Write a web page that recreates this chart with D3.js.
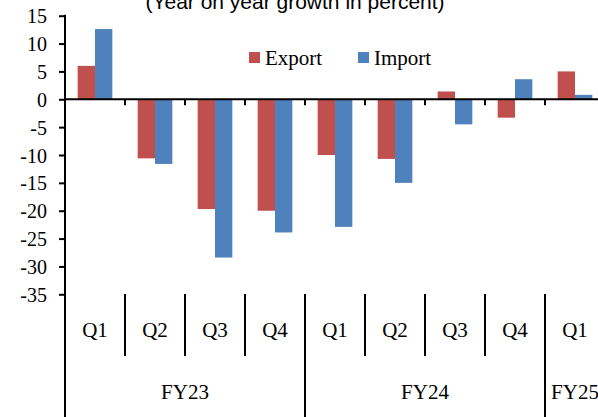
<!DOCTYPE html>
<html>
<head>
<meta charset="utf-8">
<script src="https://cdn.jsdelivr.net/npm/d3@7"></script>
<style>
  body { margin: 0; background: #fff; }
  .tick-text { font-family: "Liberation Serif", "Times New Roman", serif; font-size: 20px; fill: #000; }
  .cat-text { font-family: "Liberation Serif", "Times New Roman", serif; font-size: 21px; fill: #000; }
  .title-text { font-family: "Liberation Sans", Arial, sans-serif; font-size: 21px; fill: #000; }
</style>
</head>
<body>
<div id="chart"></div>
<script>
// data
const quarters = ["Q1", "Q2", "Q3", "Q4", "Q1", "Q2", "Q3", "Q4", "Q1"];
const years = ["FY23", "FY24", "FY25"];
const quartersPerYear = [4, 4, 1];
const exportGrowth = [6.0, -10.6, -19.7, -20.0, -10.0, -10.7, 1.4, -3.3, 5.0];
const importGrowth = [12.6, -11.6, -28.4, -23.9, -22.9, -15.0, -4.5, 3.6, 0.8];
const yTicks = [15, 10, 5, 0, -5, -10, -15, -20, -25, -30, -35];
const seriesNames = ["Export", "Import"];
const colors = { Export: "#C0504D", Import: "#4F81BD" };

// svg container size
const width = 598;
const height = 417;

// plot area
const plotLeft = 65;
const plotTop = 15.7;
const plotBottom = 294.3;
const step = 60;

// category keys, one per quarter
const yearOf = [];
years.forEach((y, i) => { for (let k = 0; k < quartersPerYear[i]; k++) yearOf.push(y); });
const keys = quarters.map((q, i) => `${yearOf[i]} ${q}`);

const data = keys.map((k, i) => ({ key: k, Export: exportGrowth[i], Import: importGrowth[i] }));

const svg = d3.select("#chart").append("svg")
    .attr("width", width)
    .attr("height", height);

// scales
const x0 = d3.scaleBand()
    .domain(keys)
    .range([plotLeft, plotLeft + step * keys.length]);

const x1 = d3.scaleBand()
    .domain(seriesNames)
    .range([0, x0.bandwidth()])
    .paddingOuter(0.73);

const y = d3.scaleLinear()
    .domain([-35, 15])
    .range([plotBottom, plotTop]);

// title (cut off at top like the original)
svg.append("text")
    .attr("class", "title-text")
    .attr("x", 295)
    .attr("y", 9)
    .attr("text-anchor", "middle")
    .text("(Year on year growth in percent)");

// bars
const groups = svg.selectAll("g.cat")
    .data(data)
    .enter()
    .append("g")
    .attr("class", "cat")
    .attr("transform", d => `translate(${x0(d.key)},0)`);

groups.selectAll("rect")
    .data(d => seriesNames.map(s => ({ s: s, v: d[s] })))
    .enter()
    .append("rect")
    .attr("x", d => x1(d.s))
    .attr("width", x1.bandwidth())
    .attr("y", d => y(Math.max(0, d.v)))
    .attr("height", d => Math.abs(y(d.v) - y(0)))
    .attr("fill", d => colors[d.s]);

// y axis (plain hyphen for negatives, as in the original)
const leftAxis = d3.axisLeft(y)
    .tickValues(yTicks)
    .tickSize(6)
    .tickFormat(d => String(d));

const yAxis = svg.append("g")
    .attr("transform", `translate(${plotLeft},0)`)
    .call(leftAxis);
yAxis.select(".domain").remove();
yAxis.selectAll("line").attr("stroke", "#000").attr("stroke-width", 2);
yAxis.selectAll("text")
    .attr("class", "tick-text")
    .attr("x", -18)
    .attr("dy", "0.35em");

// vertical axis line running down through the label area
svg.append("line")
    .attr("x1", plotLeft).attr("x2", plotLeft)
    .attr("y1", plotTop - 1).attr("y2", height)
    .attr("stroke", "#000").attr("stroke-width", 2);

// zero line with category ticks
const bottomAxis = d3.axisBottom(x0).tickSize(0).tickFormat("");
const xAxis = svg.append("g")
    .attr("transform", `translate(0,${y(0)})`)
    .call(bottomAxis);
xAxis.select(".domain")
    .attr("d", `M${plotLeft},0H${width + 10}`)
    .attr("stroke", "#000").attr("stroke-width", 2);

keys.slice(1).forEach(k => {
    svg.append("line")
        .attr("x1", x0(k)).attr("x2", x0(k))
        .attr("y1", y(0)).attr("y2", y(0) + 6)
        .attr("stroke", "#000").attr("stroke-width", 2);
});

// quarter labels and separators
svg.selectAll("text.q")
    .data(keys)
    .enter()
    .append("text")
    .attr("class", "cat-text")
    .attr("x", d => x0(d) + x0.bandwidth() / 2)
    .attr("y", 337)
    .attr("text-anchor", "middle")
    .text((d, i) => quarters[i]);

const yearStart = [];
let idx = 0;
quartersPerYear.forEach(n => { yearStart.push(idx); idx += n; });

keys.forEach((k, i) => {
    if (i === 0) return;
    const isYear = yearStart.includes(i);
    svg.append("line")
        .attr("x1", x0(k)).attr("x2", x0(k))
        .attr("y1", 294)
        .attr("y2", isYear ? height : 356)
        .attr("stroke", "#000").attr("stroke-width", 2);
});

// year labels
years.forEach((yr, i) => {
    const a = x0(keys[yearStart[i]]);
    const b = a + step * quartersPerYear[i];
    svg.append("text")
        .attr("class", "cat-text")
        .attr("x", (a + b) / 2)
        .attr("y", 399)
        .attr("text-anchor", "middle")
        .text(yr);
});

// legend
const legend = svg.append("g");
const legendX = [249, 358];
seriesNames.forEach((s, i) => {
    legend.append("rect")
        .attr("x", legendX[i]).attr("y", 52)
        .attr("width", 11).attr("height", 11)
        .attr("fill", colors[s]);
    legend.append("text")
        .attr("class", "cat-text")
        .attr("x", legendX[i] + 16)
        .attr("y", 65)
        .text(s);
});
</script>
</body>
</html>
